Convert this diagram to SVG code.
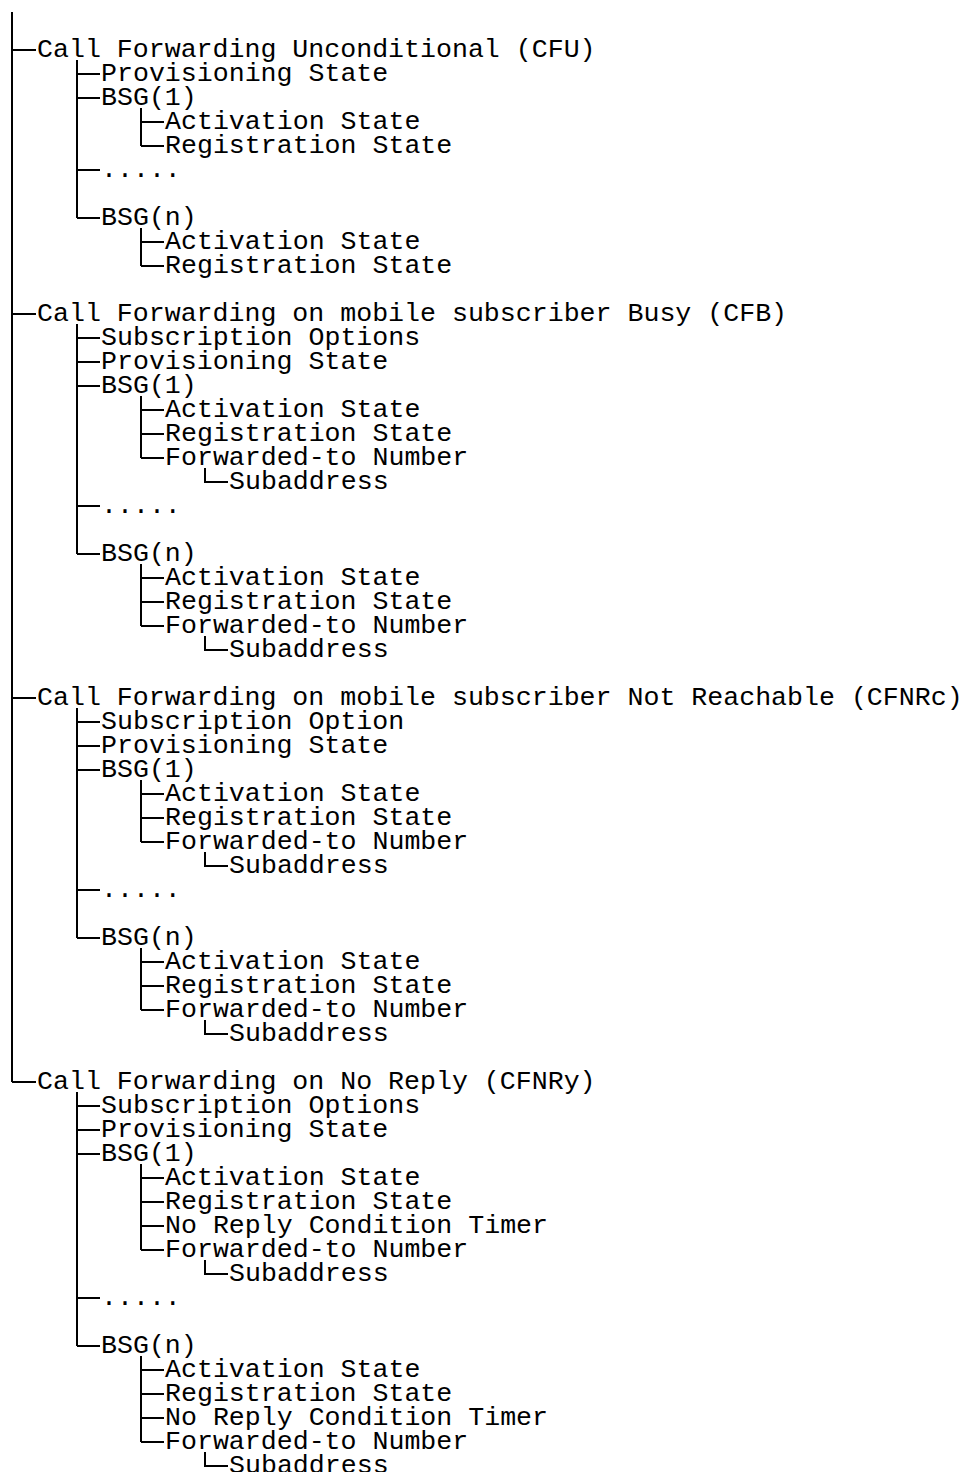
<svg xmlns="http://www.w3.org/2000/svg" width="964" height="1472" viewBox="0 0 964 1472">
<style>
text{font-family:"Liberation Mono","Courier New",monospace;font-size:26.6px;fill:#000;white-space:pre}
.c{fill:none;stroke:#000;stroke-width:2}
</style>
<rect width="964" height="1472" fill="#fff"/>
<g id="connectors" class="c">
<path d="M12 12V1082M12 50H36M12 314H36M12 698H36M12 1082H36"/>
<path d="M77 60V218M77 74H100M77 98H100M77 170H100M77 218H100"/>
<path d="M141 108V146M141 122H164M141 146H164"/>
<path d="M141 228V266M141 242H164M141 266H164"/>
<path d="M77 324V554M77 338H100M77 362H100M77 386H100M77 506H100M77 554H100"/>
<path d="M141 396V458M141 410H164M141 434H164M141 458H164"/>
<path d="M205 468V482H228"/>
<path d="M141 564V626M141 578H164M141 602H164M141 626H164"/>
<path d="M205 636V650H228"/>
<path d="M77 708V938M77 722H100M77 746H100M77 770H100M77 890H100M77 938H100"/>
<path d="M141 780V842M141 794H164M141 818H164M141 842H164"/>
<path d="M205 852V866H228"/>
<path d="M141 948V1010M141 962H164M141 986H164M141 1010H164"/>
<path d="M205 1020V1034H228"/>
<path d="M77 1092V1346M77 1106H100M77 1130H100M77 1154H100M77 1298H100M77 1346H100"/>
<path d="M141 1164V1250M141 1178H164M141 1202H164M141 1226H164M141 1250H164"/>
<path d="M205 1260V1274H228"/>
<path d="M141 1356V1442M141 1370H164M141 1394H164M141 1418H164M141 1442H164"/>
<path d="M205 1452V1466H228"/>
</g>
<g id="cfu">
<text x="37" y="57">Call Forwarding Unconditional (CFU)</text>
<text x="101" y="81">Provisioning State</text>
<text x="101" y="105">BSG(1)</text>
<text x="165" y="129">Activation State</text>
<text x="165" y="153">Registration State</text>
<text x="101" y="177">.....</text>
<text x="101" y="225">BSG(n)</text>
<text x="165" y="249">Activation State</text>
<text x="165" y="273">Registration State</text>
</g>
<g id="cfb">
<text x="37" y="321">Call Forwarding on mobile subscriber Busy (CFB)</text>
<text x="101" y="345">Subscription Options</text>
<text x="101" y="369">Provisioning State</text>
<text x="101" y="393">BSG(1)</text>
<text x="165" y="417">Activation State</text>
<text x="165" y="441">Registration State</text>
<text x="165" y="465">Forwarded-to Number</text>
<text x="229" y="489">Subaddress</text>
<text x="101" y="513">.....</text>
<text x="101" y="561">BSG(n)</text>
<text x="165" y="585">Activation State</text>
<text x="165" y="609">Registration State</text>
<text x="165" y="633">Forwarded-to Number</text>
<text x="229" y="657">Subaddress</text>
</g>
<g id="cfnrc">
<text x="37" y="705">Call Forwarding on mobile subscriber Not Reachable (CFNRc)</text>
<text x="101" y="729">Subscription Option</text>
<text x="101" y="753">Provisioning State</text>
<text x="101" y="777">BSG(1)</text>
<text x="165" y="801">Activation State</text>
<text x="165" y="825">Registration State</text>
<text x="165" y="849">Forwarded-to Number</text>
<text x="229" y="873">Subaddress</text>
<text x="101" y="897">.....</text>
<text x="101" y="945">BSG(n)</text>
<text x="165" y="969">Activation State</text>
<text x="165" y="993">Registration State</text>
<text x="165" y="1017">Forwarded-to Number</text>
<text x="229" y="1041">Subaddress</text>
</g>
<g id="cfnry">
<text x="37" y="1089">Call Forwarding on No Reply (CFNRy)</text>
<text x="101" y="1113">Subscription Options</text>
<text x="101" y="1137">Provisioning State</text>
<text x="101" y="1161">BSG(1)</text>
<text x="165" y="1185">Activation State</text>
<text x="165" y="1209">Registration State</text>
<text x="165" y="1233">No Reply Condition Timer</text>
<text x="165" y="1257">Forwarded-to Number</text>
<text x="229" y="1281">Subaddress</text>
<text x="101" y="1305">.....</text>
<text x="101" y="1353">BSG(n)</text>
<text x="165" y="1377">Activation State</text>
<text x="165" y="1401">Registration State</text>
<text x="165" y="1425">No Reply Condition Timer</text>
<text x="165" y="1449">Forwarded-to Number</text>
<text x="229" y="1473">Subaddress</text>
</g>
</svg>
